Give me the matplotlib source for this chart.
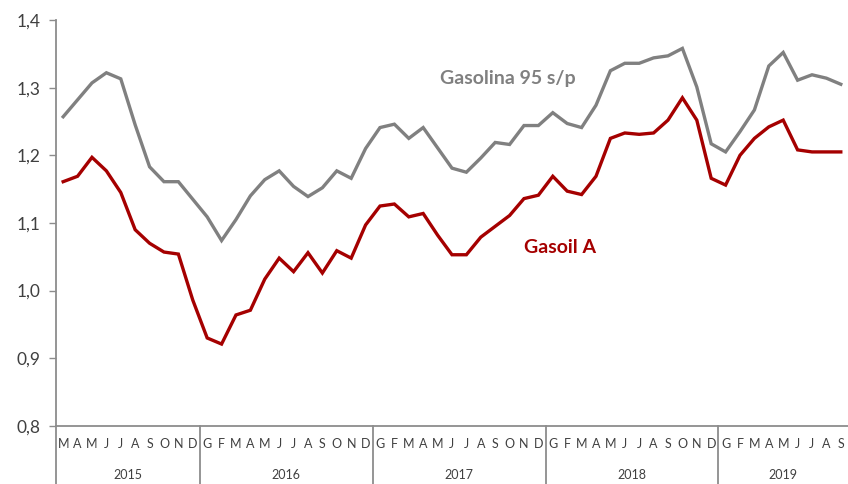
import matplotlib.pyplot as plt
from matplotlib.ticker import FuncFormatter
import matplotlib.transforms as mtransforms

plt.rcParams['font.family'] = ['Lato', 'DejaVu Sans']

# months from March 2015 to September 2019 (Italian initials)
months = (list('MAMJJASOND') + list('GFMAMJJASOND') * 3 + list('GFMAMJJAS'))
years = ['2015', '2016', '2017', '2018', '2019']
year_counts = [10, 12, 12, 12, 9]

gasolina = [1.257, 1.282, 1.307, 1.322, 1.313, 1.245, 1.183, 1.161, 1.161, 1.135,
            1.109, 1.074, 1.105, 1.140, 1.164, 1.177, 1.154, 1.139, 1.152, 1.177, 1.166, 1.210,
            1.241, 1.246, 1.225, 1.241, 1.211, 1.181, 1.175, 1.196, 1.219, 1.216, 1.244, 1.244,
            1.263, 1.247, 1.241, 1.274, 1.325, 1.336, 1.336, 1.344, 1.347, 1.358, 1.301, 1.217,
            1.205, 1.235, 1.267, 1.332, 1.352, 1.311, 1.319, 1.314, 1.305]
gasoil = [1.161, 1.169, 1.197, 1.177, 1.145, 1.090, 1.070, 1.057, 1.054, 0.986,
          0.930, 0.921, 0.964, 0.971, 1.017, 1.048, 1.028, 1.056, 1.026, 1.059, 1.048, 1.097,
          1.125, 1.128, 1.109, 1.114, 1.082, 1.053, 1.053, 1.079, 1.095, 1.111, 1.136, 1.141,
          1.169, 1.147, 1.142, 1.169, 1.225, 1.233, 1.231, 1.233, 1.252, 1.285, 1.252, 1.166,
          1.156, 1.200, 1.225, 1.242, 1.252, 1.208, 1.205, 1.205, 1.205]

grey = '#808080'
red = '#A50000'
axis_col = '#8C8C8C'

fig = plt.figure(figsize=(8.48, 4.84), dpi=100)
ax = fig.add_axes([0.066, 0.12, 0.934, 0.8387])

x = range(len(months))
ax.plot(x, gasolina, color=grey, lw=2.4, solid_joinstyle='miter')
ax.plot(x, gasoil, color=red, lw=2.4, solid_joinstyle='miter')

ax.set_xlim(-0.5, len(months) - 0.5)
ax.set_ylim(0.8, 1.4)
ax.set_yticks([0.8, 0.9, 1.0, 1.1, 1.2, 1.3, 1.4])
ax.yaxis.set_major_formatter(FuncFormatter(lambda v, p: f'{v:.1f}'.replace('.', ',')))
ax.tick_params(axis='y', length=5, width=1, color=axis_col, labelsize=12.5,
               labelcolor='#404040', pad=6)

ax.set_xticks(list(x))
ax.set_xticklabels(months)
ax.tick_params(axis='x', length=0, labelsize=9, labelcolor='#404040', pad=9)

for s in ['top', 'right']:
    ax.spines[s].set_visible(False)
for s in ['left', 'bottom']:
    ax.spines[s].set_color(axis_col)
    ax.spines[s].set_linewidth(1.3)

# year separators and labels under the axis
trans = mtransforms.blended_transform_factory(ax.transData, ax.transAxes)
start = -0.5
for yr, n in zip(years, year_counts):
    ax.plot([start, start], [0, -0.145], color=axis_col, lw=1.3,
            transform=trans, clip_on=False)
    ax.text(start + n / 2, -0.12, yr, transform=trans, ha='center', va='center',
            fontsize=9, color='#404040')
    start += n

ax.text(30.9, 1.314, 'Gasolina 95 s/p', color=grey, fontsize=14, fontweight='bold',
        ha='center', va='center')
ax.text(34.5, 1.063, 'Gasoil A', color=red, fontsize=14, fontweight='bold',
        ha='center', va='center')

fig.savefig('out.png', dpi=100)
